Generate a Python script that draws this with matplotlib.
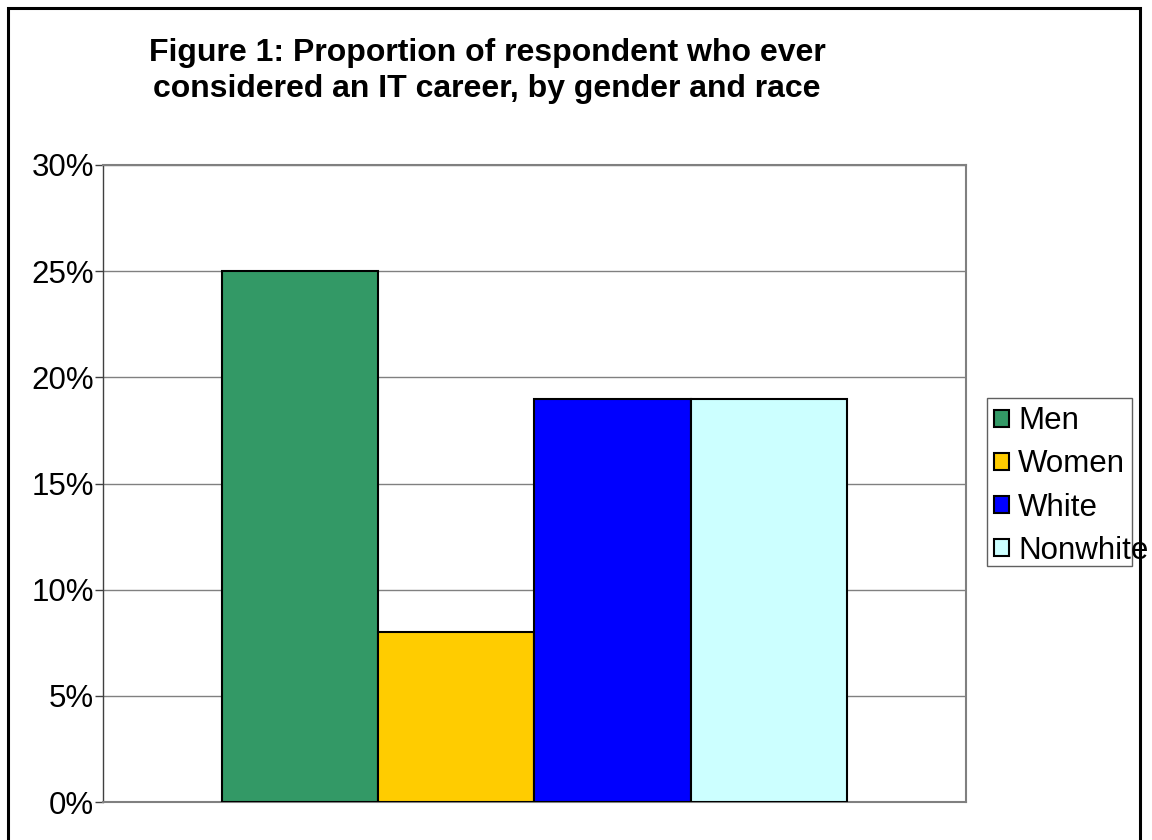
import matplotlib.pyplot as plt
from matplotlib.patches import Rectangle
from matplotlib.ticker import FuncFormatter

plt.rcParams['font.family'] = ['Liberation Sans', 'DejaVu Sans']

groups = ["Men", "Women", "White", "Nonwhite"]
shares = [25, 8, 19, 19]
colors = ["#339966", "#FFCC00", "#0000FF", "#CCFFFF"]
yticks = [0, 5, 10, 15, 20, 25, 30]

fig = plt.figure(figsize=(11.52, 8.4), dpi=100)
ax = fig.add_axes([0.0894, 0.0452, 0.7491, 0.7584])

for i in range(len(groups)):
    ax.bar(i, shares[i], width=1.0, color=colors[i], edgecolor="black",
           linewidth=1.5, label=groups[i], zorder=3)

ax.set_xlim(-1.26, 4.26)
ax.set_ylim(0, 30)
ax.set_yticks(yticks)
ax.yaxis.set_major_formatter(FuncFormatter(lambda v, p: "%d%%" % v))
ax.set_xticks([])
ax.tick_params(axis="y", labelsize=22.5, length=6, width=1, color="#404040", pad=0.5)
ax.yaxis.grid(True, color="#808080", linewidth=1)
ax.set_axisbelow(True)
for s in ["top", "right", "bottom"]:
    ax.spines[s].set_color("#808080")
    ax.spines[s].set_linewidth(1.5)
ax.spines["left"].set_color("#404040")
ax.spines["left"].set_linewidth(1)

fig.text(0.4227, 0.955, "Figure 1: Proportion of respondent who ever\nconsidered an IT career, by gender and race",
         ha="center", va="top", fontsize=23, fontweight="bold", linespacing=1.25)

# legend without frame, box drawn separately so the long label can run over it
leg = fig.legend(loc="center left", bbox_to_anchor=(0.8628, 0.4214), frameon=False,
                 fontsize=22.5, handlelength=0.48, handleheight=0.48, handletextpad=0.3,
                 labelspacing=0.42, borderaxespad=0, borderpad=0)
for h in leg.legend_handles:
    h.set_linewidth(1.5)
fig.add_artist(Rectangle((987 / 1152, 1 - 566 / 840), 145 / 1152, 168 / 840,
                         transform=fig.transFigure, fill=False, edgecolor="#606060", linewidth=1))

# outer chart border
fig.add_artist(Rectangle((8 / 1152, -0.05), 1132 / 1152, 1.05 - 8 / 840,
                         transform=fig.transFigure, fill=False, edgecolor="black", linewidth=2.2))

fig.savefig("out.png", dpi=100)
